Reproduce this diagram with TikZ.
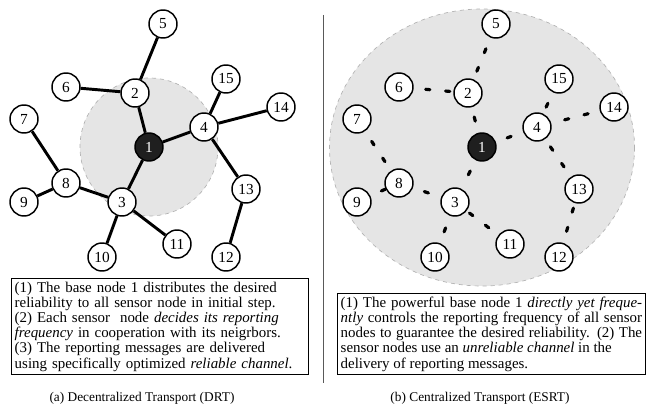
\documentclass[tikz,border=0pt]{standalone}
\usepackage{fontspec}
\setmainfont{Liberation Serif}
\usetikzlibrary{positioning}

\tikzset{
    sensor/.style={circle, draw, line width=1.1pt, fill=white, minimum size=21pt, inner sep=0pt, font=\fontsize{11.5}{12}\selectfont},
    basenode/.style={sensor, fill=black!88, text=white},
    drtlink/.style={line width=2.2pt},
    esrtlink/.style={line width=2.4pt, line cap=round, dash pattern=on 3.2pt off 11.8pt, dash phase=6pt},
    coverage/.style={fill=black!10, draw=black!30, dashed, line width=0.5pt},
    notebox/.style={draw, line width=0.6pt, anchor=north west, inner sep=2.5pt, font=\fontsize{11.2}{11.4}\selectfont},
}

\begin{document}
\begin{tikzpicture}[x=0.75pt, y=-0.75pt]
    \useasboundingbox (0,0) rectangle (648,410);

    % Decentralized Transport
    \begin{scope}
        % Range of base node
        \fill[coverage] (149,147) circle (69);

        % Nodes
        \node[basenode] (d1) at (149,147) {1};
        \node[sensor] (d2) at (135,93) {2};
        \node[sensor] (d3) at (122,202) {3};
        \node[sensor] (d4) at (204,127) {4};
        \node[sensor] (d5) at (163,24) {5};
        \node[sensor] (d6) at (66,87) {6};
        \node[sensor] (d7) at (24,119) {7};
        \node[sensor] (d8) at (66,183) {8};
        \node[sensor] (d9) at (24,202) {9};
        \node[sensor] (d10) at (102,257) {10};
        \node[sensor] (d11) at (177,244) {11};
        \node[sensor] (d12) at (226,257) {12};
        \node[sensor] (d13) at (246,189) {13};
        \node[sensor] (d14) at (281,107) {14};
        \node[sensor] (d15) at (226,79) {15};

        % Reliable channel
        \draw[drtlink] (d1) -- (d2) (d1) -- (d3) (d1) -- (d4)
            (d2) -- (d5) (d2) -- (d6)
            (d3) -- (d8) (d3) -- (d10) (d3) -- (d11)
            (d8) -- (d7) (d8) -- (d9)
            (d4) -- (d15) (d4) -- (d14) (d4) -- (d13)
            (d13) -- (d12);

        \node[notebox, text width=218pt, align=left] (drtnote) at (11,278) {%
            (1) The base node 1 distributes the desired\\
            reliability to all sensor node in initial step.\\
            (2) Each sensor\ \ node \textit{decides its reporting}\\
            \textit{frequency} in cooperation with its neigrbors.\\
            (3) The reporting messages are delivered\\
            using specifically optimized \textit{reliable channel}.};

        \node[font=\fontsize{10}{12}\selectfont] (drtcap) at (142,398) {(a) Decentralized Transport (DRT)};
    \end{scope}

    % Separator
    \coordinate (septop) at (323,15);
    \coordinate (sepbot) at (323,383);
    \draw[line width=0.6pt, black!65] (septop) -- (sepbot);

    % Centralized Transport
    \begin{scope}[xshift=249.75pt]
        % Range of base node
        \fill[coverage] (149,147.5) ellipse (152.5 and 138.5);

        % Nodes
        \node[basenode] (e1) at (149,147) {1};
        \node[sensor] (e2) at (135,93) {2};
        \node[sensor] (e3) at (122,202) {3};
        \node[sensor] (e4) at (204,127) {4};
        \node[sensor] (e5) at (163,24) {5};
        \node[sensor] (e6) at (66,87) {6};
        \node[sensor] (e7) at (24,119) {7};
        \node[sensor] (e8) at (66,183) {8};
        \node[sensor] (e9) at (24,202) {9};
        \node[sensor] (e10) at (102,257) {10};
        \node[sensor] (e11) at (177,244) {11};
        \node[sensor] (e12) at (226,257) {12};
        \node[sensor] (e13) at (246,189) {13};
        \node[sensor] (e14) at (281,107) {14};
        \node[sensor] (e15) at (226,79) {15};

        % Unreliable channel
        \draw[esrtlink] (e1) -- (e2) (e1) -- (e3) (e1) -- (e4)
            (e5) -- (e2) (e6) -- (e2)
            (e8) -- (e3) (e10) -- (e3) (e11) -- (e3)
            (e7) -- (e8) (e9) -- (e8)
            (e15) -- (e4) (e14) -- (e4) (e13) -- (e4)
            (e12) -- (e13);

        \node[notebox, text width=226pt, align=justify] (esrtnote) at (4,293) {%
            (1) The powerful base node 1 \textit{directly yet freque-}\linebreak
            \textit{ntly} controls the reporting frequency of all sensor\linebreak
            nodes to guarantee the desired reliability. (2) The\linebreak
            sensor nodes use an \textit{unreliable channel} in the\newline
            delivery of reporting messages.\par\vspace{5pt}};

        \node[font=\fontsize{10}{12}\selectfont] (esrtcap) at (147,398) {(b) Centralized Transport (ESRT)};
    \end{scope}
\end{tikzpicture}
\end{document}
